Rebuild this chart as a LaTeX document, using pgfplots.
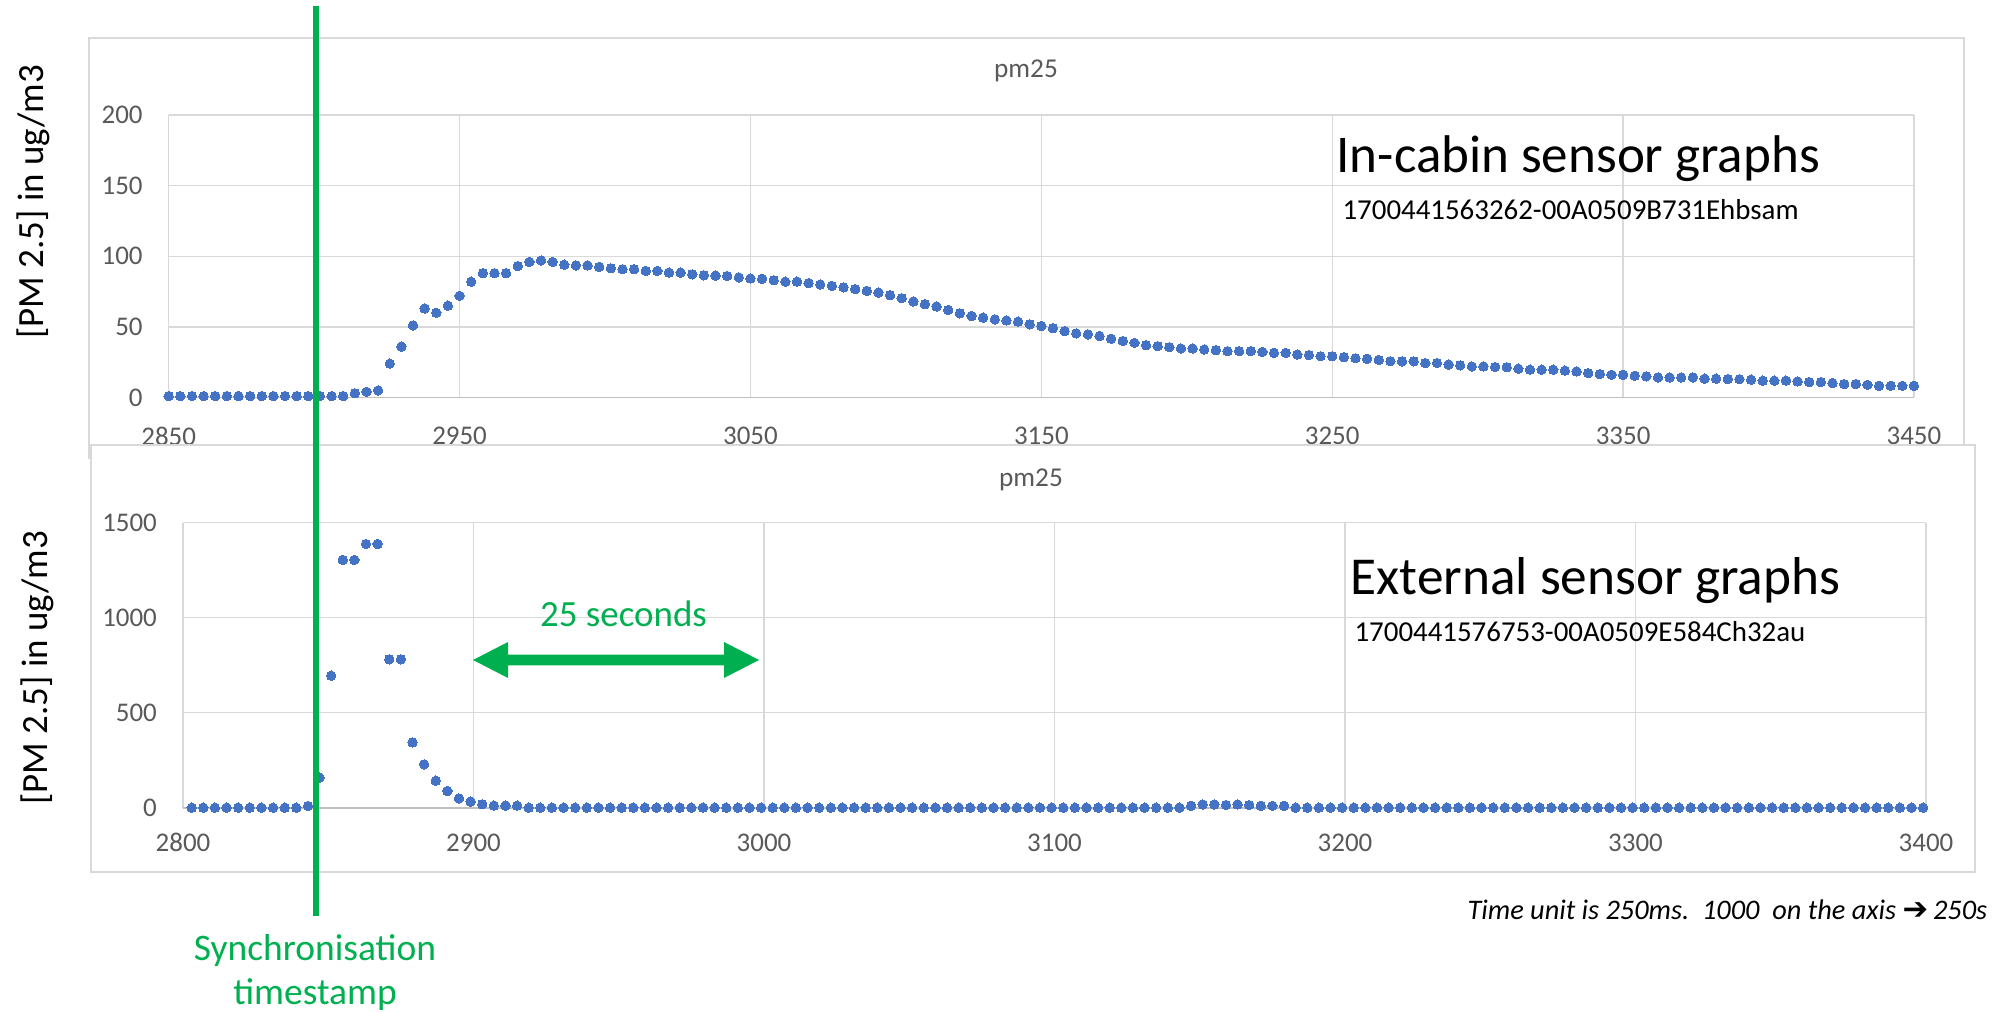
\documentclass[border=0pt]{standalone}
\usepackage{fontspec}
\setmainfont{Carlito}
\newfontfamily\symfont{DejaVu Sans}
\usepackage{pgfplots}
\usepackage{pgfplotstable}
\pgfplotsset{compat=1.18}

\definecolor{markblue}{HTML}{4472C4}
\definecolor{gridgray}{HTML}{D9D9D9}
\definecolor{axisgray}{HTML}{BFBFBF}
\definecolor{ticktext}{HTML}{595959}
\definecolor{syncgreen}{HTML}{00B050}

% In-cabin sensor, pm25 (time unit 250 ms)
\pgfplotstableread{
x y
2850 1
2854 1
2858 1
2862 1
2866 1
2870 1
2874 1
2878 1
2882 1
2886 1
2890 1
2894 1
2898 1
2902 1
2906 1
2910 1
2914 3
2918 4
2922 5
2926 24
2930 36
2934 51
2938 63
2942 60
2946 65
2950 72
2954 82
2958 88
2962 88
2966 88
2970 93
2974 96
2978 97
2982 96
2986 94
2990 93.5
2994 93.5
2998 92.5
3002 91.5
3006 90.8
3010 90.8
3014 89.6
3018 89.6
3022 88.4
3026 88.4
3030 87.2
3034 86.5
3038 86.3
3042 86
3046 85
3050 84.3
3054 84
3058 83
3062 82
3066 82
3070 81
3074 80
3078 79
3082 78
3086 76.7
3090 75.5
3094 74.3
3098 72.4
3102 70.3
3106 68
3110 66
3114 64.4
3118 62
3122 59.6
3126 57.7
3130 56.5
3134 55.3
3138 54.6
3142 53.7
3146 51.8
3150 50.6
3154 49
3158 47
3162 45.4
3166 44.7
3170 43.5
3174 41.6
3178 40
3182 38.7
3186 37
3190 36.3
3194 35.6
3198 34.7
3202 34.7
3206 34
3210 33.5
3214 32.8
3218 32.8
3222 32.8
3226 32.3
3230 31.6
3234 31.6
3238 30.4
3242 30
3246 29.2
3250 29.2
3254 28.5
3258 27.8
3262 27.4
3266 26.6
3270 25.7
3274 25.6
3278 25.6
3282 24.4
3286 24.4
3290 23.3
3294 22.8
3298 22
3302 22
3306 21.6
3310 21.4
3314 20.4
3318 19.7
3322 19.7
3326 19.7
3330 19
3334 18.5
3338 17.3
3342 16.6
3346 16.1
3350 16.1
3354 15.4
3358 15
3362 14.2
3366 14.2
3370 14.2
3374 14.2
3378 13.3
3382 13.3
3386 13
3390 13
3394 12.6
3398 11.9
3402 11.9
3406 11.9
3410 11.4
3414 10.9
3418 10.9
3422 10.2
3426 9.5
3430 9.5
3434 9
3438 8.3
3442 8.3
3446 8.3
3450 8.3
}\cabindata

% External sensor, pm25 (time unit 250 ms)
\pgfplotstableread{
x y
2803 0
2807 0
2811 0
2815 0
2819 0
2823 0
2827 0
2831 0
2835 0
2839 0
2843 9
2847 158
2851 695
2855 1304
2859 1304
2863 1388
2867 1388
2871 781
2875 781
2879 344
2883 228
2887 142
2891 88
2895 49
2899 32
2903 18
2907 11
2911 11
2915 11
2919 0
2923 0
2927 0
2931 0
2935 0
2939 0
2943 0
2947 0
2951 0
2955 0
2959 0
2963 0
2967 0
2971 0
2975 0
2979 0
2983 0
2987 0
2991 0
2995 0
2999 0
3003 0
3007 0
3011 0
3015 0
3019 0
3023 0
3027 0
3031 0
3035 0
3039 0
3043 0
3047 0
3051 0
3055 0
3059 0
3063 0
3067 0
3071 0
3075 0
3079 0
3083 0
3087 0
3091 0
3095 0
3099 0
3103 0
3107 0
3111 0
3115 0
3119 0
3123 0
3127 0
3131 0
3135 0
3139 0
3143 0
3147 10
3151 17
3155 17
3159 14
3163 17
3167 14
3171 10
3175 10
3179 10
3183 0
3187 0
3191 0
3195 0
3199 0
3203 0
3207 0
3211 0
3215 0
3219 0
3223 0
3227 0
3231 0
3235 0
3239 0
3243 0
3247 0
3251 0
3255 0
3259 0
3263 0
3267 0
3271 0
3275 0
3279 0
3283 0
3287 0
3291 0
3295 0
3299 0
3303 0
3307 0
3311 0
3315 0
3319 0
3323 0
3327 0
3331 0
3335 0
3339 0
3343 0
3347 0
3351 0
3355 0
3359 0
3363 0
3367 0
3371 0
3375 0
3379 0
3383 0
3387 0
3391 0
3395 0
3399 0
}\externaldata

\pgfplotsset{
  pmchart/.style={
    anchor=south west,
    scale only axis,
    grid=major,
    major grid style={draw=gridgray, line width=0.5pt},
    axis line style={draw=none},
    major tick length=0pt,
    tick label style={font=\fontsize{9.7}{11}\selectfont, text=ticktext},
    /pgf/number format/assume math mode=true,
    /pgf/number format/1000 sep={},
    yticklabel style={anchor=east, inner sep=0pt, xshift=-9.2pt},
    clip=false,
  },
  pmdots/.style={only marks, mark=*, mark size=1.7pt, color=markblue,
    mark options={draw=markblue, fill=markblue, line width=0pt}},
}

\begin{document}
\begin{tikzpicture}[x=0.36pt, y=0.36pt]
\useasboundingbox (0,0) rectangle (2004,1012);

% upper chart frame
\draw[gridgray, line width=0.55pt, fill=white] (89,974) rectangle (1964,554);

\begin{axis}[pmchart,
  at={(60.73pt,221.22pt)}, width=628.3pt, height=101.7pt,
  xmin=2850, xmax=3450, ymin=0, ymax=200,
  xtick={2850,2950,...,3450}, ytick={0,50,...,200},
  xticklabel style={anchor=north, inner sep=0pt, yshift=-10.4pt},
]
\draw[axisgray, line width=0.6pt] (axis cs:2850,0) -- (axis cs:3450,0);
\addplot[pmdots] table[x=x, y=y] {\cabindata};
\end{axis}

% lower chart frame
\draw[gridgray, line width=0.55pt, fill=white] (91,567) rectangle (1975,140);

\begin{axis}[pmchart,
  at={(65.88pt,73.55pt)}, width=627.5pt, height=102.6pt,
  xmin=2800, xmax=3400, ymin=0, ymax=1500,
  xtick={2800,2900,...,3400}, ytick={0,500,...,1500},
  xticklabel style={anchor=north, inner sep=0pt, yshift=-9.1pt},
]
\draw[axisgray, line width=0.6pt] (axis cs:2800,0) -- (axis cs:3400,0);
\addplot[pmdots] table[x=x, y=y] {\externaldata};
\end{axis}

% chart titles
\node[anchor=base, text=ticktext, font=\fontsize{9.8}{11}\selectfont, inner sep=0pt] at (1026,934) {pm25};
\node[anchor=base, text=ticktext, font=\fontsize{9.8}{11}\selectfont, inner sep=0pt] at (1031,525) {pm25};

% y-axis titles
\node[rotate=90, font=\fontsize{13.3}{15}\selectfont, inner sep=0pt] at (33,810) {[PM 2.5] in ug/m3};
\node[rotate=90, font=\fontsize{13.3}{15}\selectfont, inner sep=0pt] at (37,344) {[PM 2.5] in ug/m3};

% sensor captions
\node[anchor=base west, font=\fontsize{19.1}{22}\selectfont, inner sep=0pt] at (1336,839) {In-cabin sensor graphs};
\node[anchor=base west, font=\fontsize{10.4}{12}\selectfont, inner sep=0pt] at (1342,792) {1700441563262-00A0509B731Ehbsam};
\node[anchor=base west, font=\fontsize{19.2}{22}\selectfont, inner sep=0pt] at (1350,417) {External sensor graphs};
\node[anchor=base west, font=\fontsize{10.4}{12}\selectfont, inner sep=0pt] at (1354,370) {1700441576753-00A0509E584Ch32au};

% 25 s interval
\node[anchor=base, text=syncgreen, font=\fontsize{13.3}{15}\selectfont, inner sep=0pt] at (623.5,385) {25 seconds};
\fill[syncgreen] (473,352) -- (508,370) -- (508,357.3) -- (724,357.3) -- (724,370)
  -- (759,352) -- (724,334) -- (724,346.7) -- (508,346.7) -- (508,334) -- cycle;

% synchronisation marker
\draw[syncgreen, line width=2pt] (316,1006) -- (316,96);
\node[anchor=base, text=syncgreen, font=\fontsize{13.5}{15}\selectfont, inner sep=0pt] at (315,51) {Synchronisation};
\node[anchor=base, text=syncgreen, font=\fontsize{13.5}{15}\selectfont, inner sep=0pt] at (315,7) {timestamp};

% time unit note
\node[anchor=base west, font=\fontsize{10.2}{12}\selectfont\itshape, inner sep=0pt] at (1467,92)
  {Time unit is 250ms.\ \ 1000\ \ on the axis\ {\upshape\symfont\bfseries\fontsize{11}{12}\selectfont ➔}\,250s};
\end{tikzpicture}
\end{document}
